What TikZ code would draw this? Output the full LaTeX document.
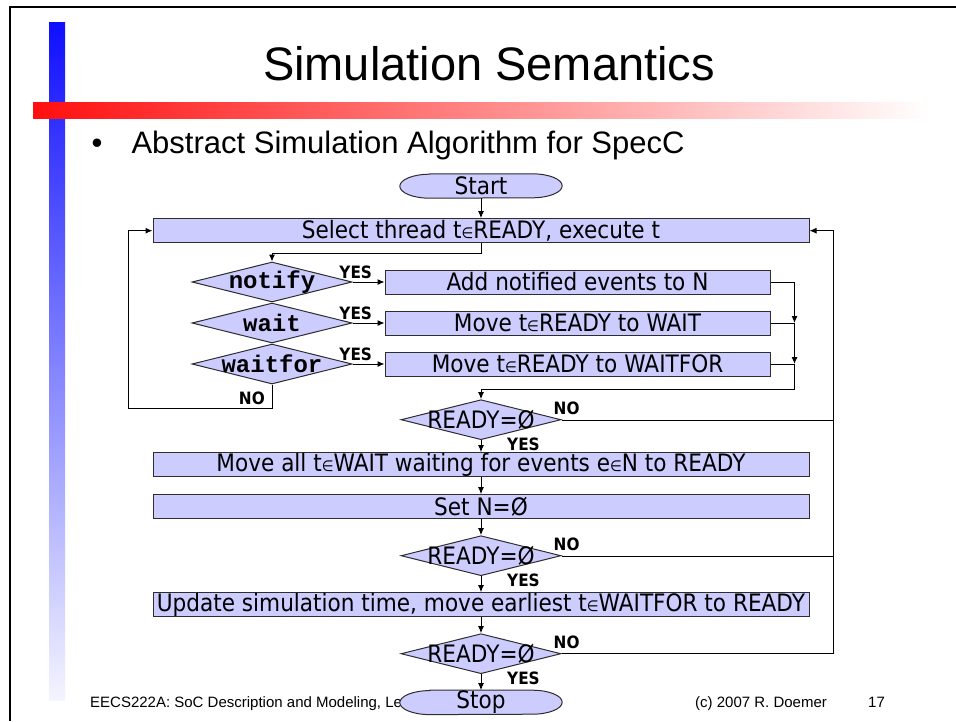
\documentclass[tikz,border=0pt]{standalone}
\usepackage{fontspec}
\setmainfont{Liberation Sans}
\newfontfamily\flowfont[FakeStretch=0.9]{DejaVu Sans}
\newfontfamily\codefont{Liberation Mono}
\usetikzlibrary{arrows.meta,positioning,shapes.geometric,calc,backgrounds}
\definecolor{flowfill}{RGB}{204,204,255}
\definecolor{edge}{RGB}{45,45,45}
\definecolor{barblue}{RGB}{15,15,255}
\definecolor{barfade}{RGB}{244,244,255}
\definecolor{barred}{RGB}{255,15,15}
\newcommand{\elemof}{{\fontsize{15}{15}\selectfont ∈}}

\begin{document}
\begin{tikzpicture}[
    x=1pt, y=1pt,
    box/.style={draw=edge, line width=1pt, fill=flowfill, inner sep=0pt, minimum height=24pt, font=\flowfont\fontsize{24}{24}\selectfont},
    wide/.style={box, minimum width=656pt},
    side/.style={box, minimum width=385pt},
    test/.style={diamond, aspect=4, draw=edge, line width=1pt, fill=flowfill, inner sep=0pt, minimum width=160pt, minimum height=40pt,
      font=\flowfont\fontsize{24}{24}\selectfont, execute at begin node={\hbox to 0pt\bgroup\hss}, execute at end node={\hss\egroup}},
    kw/.style={test, font=\codefont\bfseries\fontsize{24}{24}\selectfont},
    term/.style={inner sep=0pt, minimum width=102pt, minimum height=24pt, font=\flowfont\fontsize{24}{24}\selectfont},
    flag/.style={inner sep=0pt, font=\flowfont\bfseries\fontsize{17}{18}\selectfont},
    foot/.style={font=\fontsize{15}{16}\selectfont, anchor=base west, inner sep=0pt},
    arrow/.style={-{Latex[length=7pt,width=6pt]}, line width=1pt}
  ]
    \useasboundingbox (0,0) rectangle (956,-721);

    \node[font=\fontsize{47}{50}\selectfont, anchor=base] (title) at (489,-80) {Simulation Semantics};
    \node[font=\fontsize{31}{34}\selectfont, anchor=base] (dot) at (97,-153) {•};
    \node[font=\fontsize{31}{34}\selectfont, anchor=base west] (topic) at (128,-153) {Abstract Simulation Algorithm for SpecC};

    \node[term] (start) at (481,-186) {Start};
    \node[wide, below=20pt of start] (select) {Select thread t\elemof READY, execute t};
    \node[kw] (notify) at (272,-282) {notify};
    \node[kw, below=0pt of notify] (wait) {wait};
    \node[kw, below=0pt of wait] (waitfor) {waitfor};
    \node[side, right=32pt of notify] (addn) {Add notified events to N};
    \node[side, right=32pt of wait] (mvwait) {Move t\elemof READY to WAIT};
    \node[side, right=32pt of waitfor] (mvwaitfor) {Move t\elemof READY to WAITFOR};
    \node[test, below=156pt of select] (ready1) {READY=Ø};
    \node[wide, below=12pt of ready1] (mvall) {Move all t\elemof WAIT waiting for events e\elemof N to READY};
    \node[wide, below=17pt of mvall] (setn) {Set N=Ø};
    \node[test, below=16pt of setn] (ready2) {READY=Ø};
    \node[wide, below=16pt of ready2] (update) {Update simulation time, move earliest t\elemof WAITFOR to READY};
    \node[test, below=16pt of update] (ready3) {READY=Ø};
    \node[term, below=16pt of ready3] (stop) {Stop};

    \coordinate (mrg) at ($(addn.east)+(24,0)$);
    \coordinate (back) at ($(select.east)+(24,0)$);
    \coordinate (loop) at ($(select.west)+(-24,0)$);

    \draw[arrow] (start) -- (select);
    \draw[arrow] (select.south) -- ++(0,-10) -| (notify.north);
    \draw[arrow] (notify) -- node[flag, pos=0.1, above=3pt] {YES} (addn);
    \draw[arrow] (wait) -- node[flag, pos=0.1, above=3pt] {YES} (mvwait);
    \draw[arrow] (waitfor) -- node[flag, pos=0.1, above=3pt] {YES} (mvwaitfor);
    \draw (addn.east) -- (mrg);
    \draw (mvwait.east) -- (mrg |- mvwait.east);
    \draw (mvwaitfor.east) -- (mrg |- mvwaitfor.east);
    \draw[arrow] (mrg) -- (mrg |- mvwait.east);
    \draw[arrow] (mrg |- mvwait.east) -- (mrg |- mvwaitfor.east);
    \draw[arrow] (mrg |- mvwaitfor.east) -- ++(0,-25) -| (ready1.north);
    \draw[arrow] (waitfor.south) -- ++(0,-24) -| (loop) -- (select.west);
    \node[flag, anchor=north east] (no0) at ($(waitfor.south)+(-7,-7)$) {NO};

    \draw[arrow] (ready1) -- (mvall);
    \draw[arrow] (mvall) -- (setn);
    \draw[arrow] (setn) -- (ready2);
    \draw[arrow] (ready2) -- (update);
    \draw[arrow] (update) -- (ready3);
    \draw[arrow] (ready3) -- (stop);
    \draw (ready1.east) -- (ready1.east -| back);
    \draw (ready2.east) -- (ready2.east -| back);
    \draw[arrow] (ready3.east) -| (back) -- (select.east);
    \foreach \r/\i in {ready1/1,ready2/2,ready3/3} {
      \node[flag, anchor=north west] (yes\i) at ($(\r.south)+(26,3)$) {YES};
      \node[flag, anchor=south west] (no\i) at ($(\r.east)+(-8,5)$) {NO};
    }

    \begin{scope}[on background layer]
      \shade[top color=barblue, bottom color=barfade] (49,-22) rectangle (65,-700);
      \shade[left color=barred, right color=white] (33,-102) rectangle (930,-118);
      \draw[line width=2pt] (10,-721) -- (10,-7) -- (956,-7);
      \node[foot] (course) at (90,-707) {EECS222A: SoC Description and Modeling, Lecture};
      \node[foot] (owner) at (695,-707) {(c) 2007 R. Doemer};
      \node[foot] (page) at (868,-707) {17};
      \foreach \t in {start,stop}
        \draw[draw=edge, line width=1pt, fill=flowfill] (\t.north west) -- (\t.north east)
          arc[start angle=90, end angle=-90, x radius=30, y radius=12] -- (\t.south west)
          arc[start angle=270, end angle=90, x radius=30, y radius=12] -- cycle;
    \end{scope}
  \end{tikzpicture}
\end{document}
